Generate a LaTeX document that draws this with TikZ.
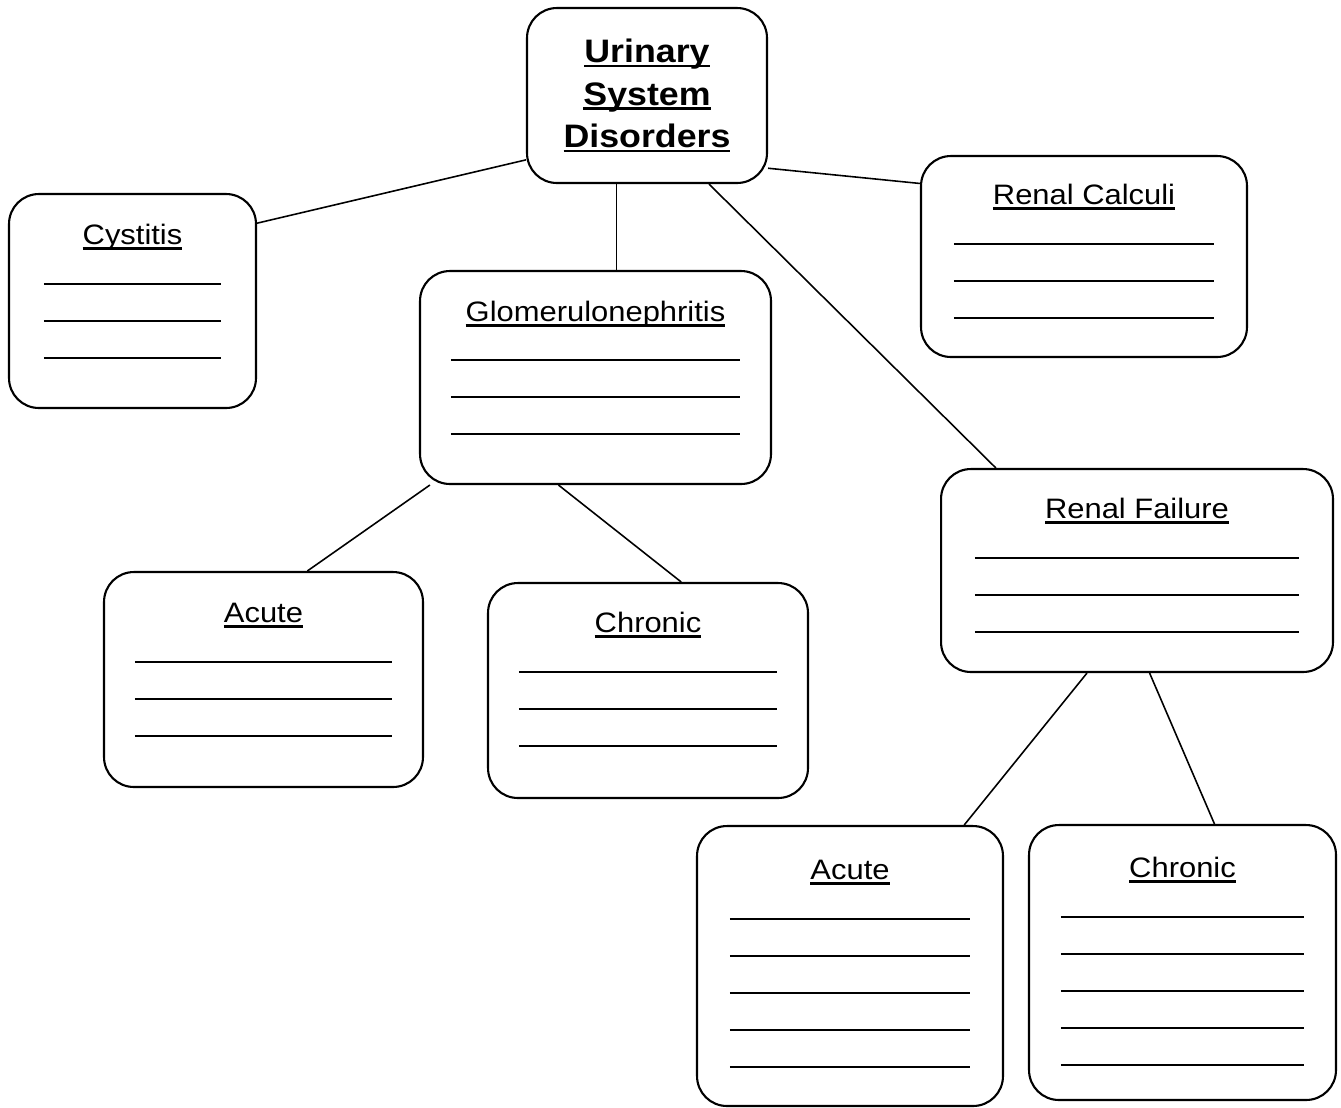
\documentclass[tikz,border=0pt]{standalone}
\usepackage{fontspec}
\setmainfont{Liberation Sans}[FakeStretch=1.1]
\usepackage{tikz}
\usetikzlibrary{positioning}

\newcommand{\ulin}[1]{\setbox0=\hbox{#1}\rlap{\rule[-2.6pt]{\wd0}{1.2pt}}\box0}

\begin{document}
\begin{tikzpicture}[x=0.02cm, y=-0.02cm, line width=1.2pt,
                box/.style 2 args={draw, rounded corners=17pt, minimum width=#1, minimum height=#2, inner sep=0pt},
                ttl/.style={font=\fontsize{16}{19}\selectfont, inner sep=0pt},
                blank/.style={line width=1.6pt},
                link/.style={line width=0.9pt}]

    \useasboundingbox (0,0) rectangle (1341,1107);

    \node[box={4.8cm}{3.5cm}, align=center, font=\fontsize{18.5}{24.4}\selectfont\bfseries]
        (top) at (647,95.5) {\ulin{Urinary}\\\ulin{System}\\\ulin{Disorders}};
    \node[box={4.94cm}{4.28cm}] (cyst) at (132.5,301) {};
    \node[box={7.02cm}{4.26cm}] (glom) at (595.5,377.5) {};
    \node[box={6.52cm}{4.02cm}] (calc) at (1084,256.5) {};
    \node[box={7.84cm}{4.06cm}] (fail) at (1137,570.5) {};
    \node[box={6.38cm}{4.3cm}] (gacute) at (263.5,679.5) {};
    \node[box={6.4cm}{4.3cm}] (gchron) at (648,690.5) {};
    \node[box={6.12cm}{5.6cm}] (facute) at (850,966) {};
    \node[box={6.14cm}{5.5cm}] (fchron) at (1182.5,962.5) {};

    % titles
    \foreach \b/\t/\o in {cyst/Cystitis/1.04, glom/Glomerulonephritis/1.04,
                          calc/Renal Calculi/1.0, fail/Renal Failure/1.02,
                          gacute/Acute/1.04, gchron/Chronic/1.02,
                          facute/Acute/1.1, fchron/Chronic/1.08}
        \node[ttl, anchor=base] (\b-t) at ([yshift={-\o*1cm}]\b.north) {\ulin{\t}};

    % lines to fill in
    \foreach \b/\n/\f/\s in {cyst/2/1.82/0.72, glom/2/1.80/0.64, calc/2/1.78/0.68,
                             fail/2/1.80/0.7, gacute/2/1.82/0.64, gchron/2/1.80/0.64,
                             facute/4/1.88/0.68, fchron/4/1.86/0.66}
        \foreach \k in {0,...,\n}
            \draw[blank] ([xshift=\s cm, yshift={-(\f+0.74*\k)*1cm}]\b.north west)
                      -- ([xshift=-\s cm, yshift={-(\f+0.74*\k)*1cm}]\b.north east);

    \path[link]
    (top.208) edge (cyst.32)
    (top.251.7) edge (top.251.7 |- glom.north)
    (top.305.8) edge (fail.144.1)
    (top.329.2) edge (calc.156.6)
    (glom.213.2) edge (gacute.68)
    (glom.251.6) edge (gchron.73.9)
    (fail.244.2) edge (facute.51.3)
    (fail.277.3) edge (fchron.77.5);

\end{tikzpicture}
\end{document}
